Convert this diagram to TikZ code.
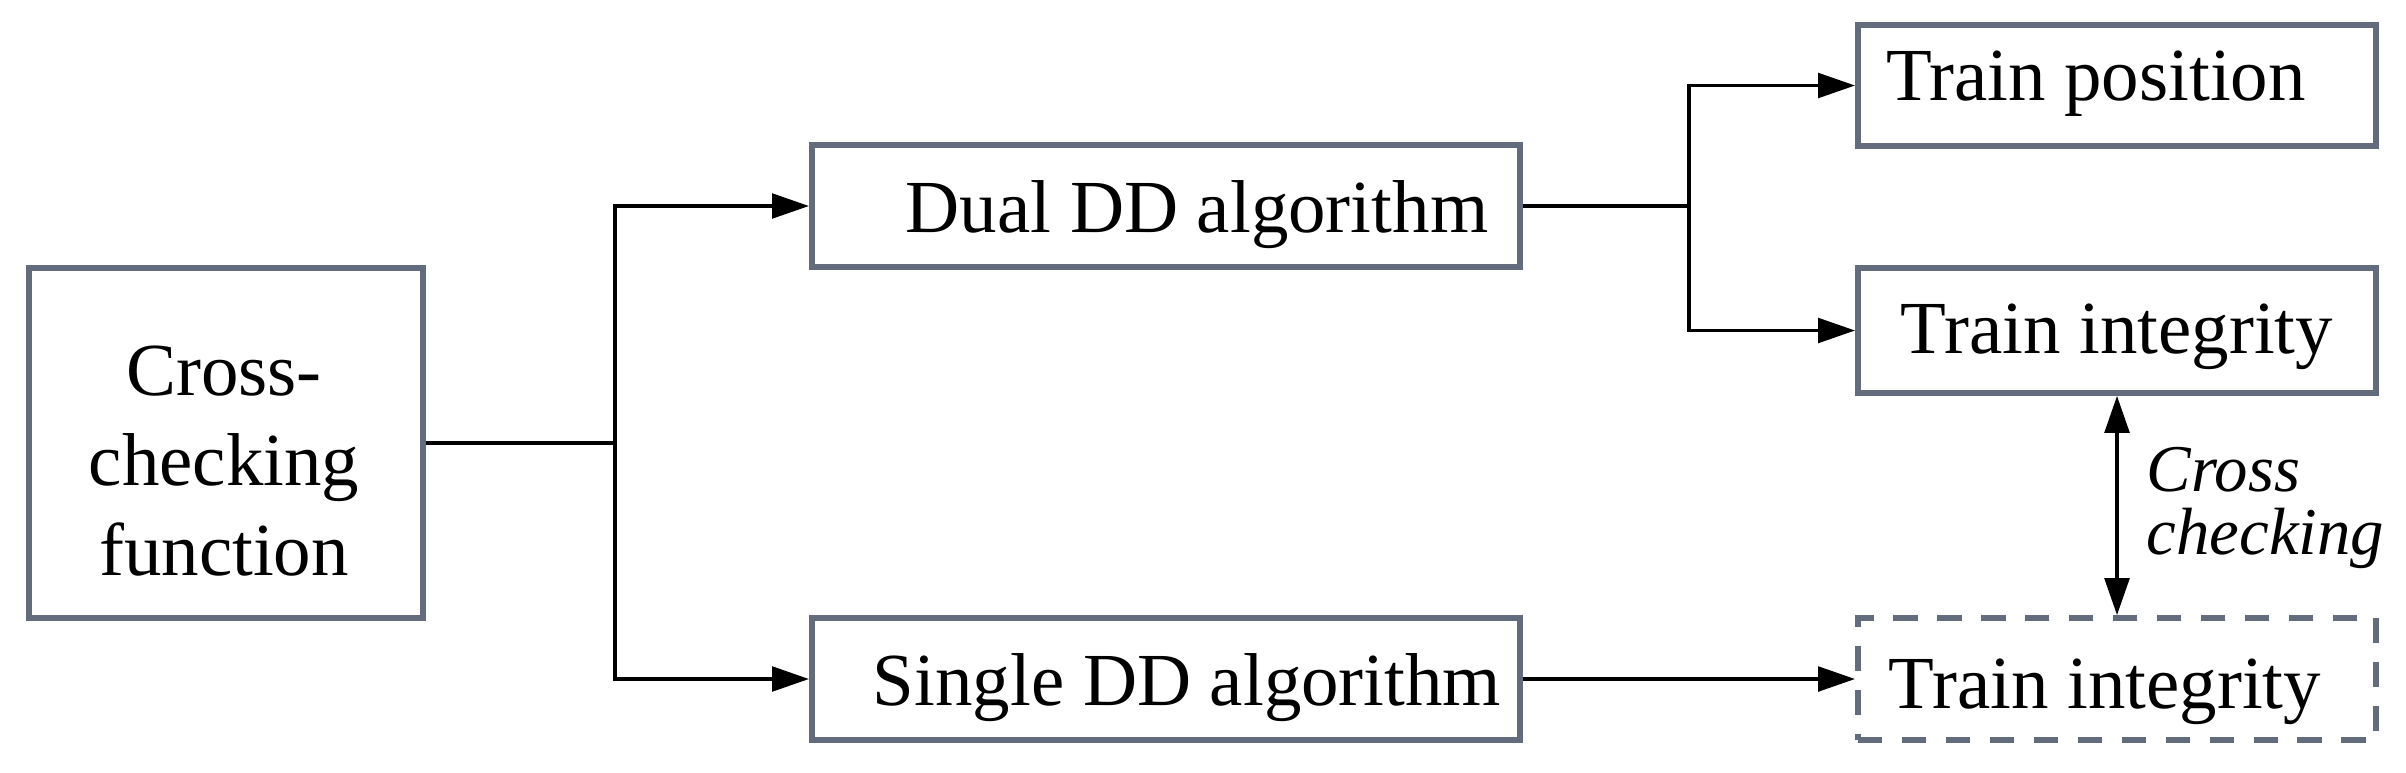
\documentclass[tikz,border=0pt]{standalone}
\usepackage{fontspec}
\setmainfont{Liberation Serif}
\usetikzlibrary{arrows.meta,calc}
\definecolor{boxgray}{RGB}{98,108,124}
\begin{document}
\begin{tikzpicture}[x=0.01cm,y=-0.01cm,
  box/.style={draw=boxgray,line width=1.6pt,inner sep=0pt,fill=white},
  dbox/.style={box,dash pattern=on 7pt off 5.5pt},
  txt/.style={inner sep=0pt,anchor=base,font=\fontsize{21.3pt}{25.5pt}\selectfont},
  itxt/.style={inner sep=0pt,align=left,font=\fontsize{19pt}{17.9pt}\selectfont\itshape},
  conn/.style={line width=1pt,black},
  tip/.style={},
  arr/.style={conn,-{Triangle[length=10.5pt,width=7pt]}},
  darr/.style={conn,{Triangle[length=10.5pt,width=7pt]}-{Triangle[length=10.5pt,width=7pt]}}
]
\useasboundingbox (0,0) rectangle (2406,772);
% boxes
\node[box,minimum width=3.94cm,minimum height=3.50cm] (L) at (226,443) {};
\node[txt,anchor=center,align=center] (Lt) at (224,461) {Cross-\\checking\\function};
\node[box,minimum width=7.08cm,minimum height=1.22cm] (D) at (1166,206) {};
\node[txt] (Dt) at (1197,232) {Dual DD algorithm};
\node[box,minimum width=7.08cm,minimum height=1.22cm] (S) at (1166,679) {};
\node[txt] (St) at (1187,705) {Single DD algorithm};
\node[box,minimum width=5.18cm,minimum height=1.21cm] (TP) at (2117,85.5) {};
\node[txt] (TPt) at (2096,100) {Train position};
\node[box,minimum width=5.18cm,minimum height=1.25cm] (TI) at (2117,330.5) {};
\node[txt] (TIt) at (2117,353) {Train integrity};
\node[dbox,minimum width=5.18cm,minimum height=1.22cm] (TD) at (2117,679) {};
\node[txt] (TDt) at (2105,708) {Train integrity};
\node[itxt,anchor=west] (CC) at (2146,508) {Cross\\checking};
% junctions
\coordinate (J1) at (615,443);
\coordinate (J2) at (1689,206);
% connectors
\draw[conn] (L.east |- J1) -- (J1);
\draw[arr] (J1) |- (D.west);
\draw[arr] (J1) |- (S.west);
\draw[conn] (D.east) -- (J2);
\draw[arr] (J2) |- (TP.west);
\draw[arr] (J2) |- (TI.west);
\draw[arr] (S.east) -- (TD.west);
\draw[darr] (TI.south) -- (TD.north);
\end{tikzpicture}
\end{document}
